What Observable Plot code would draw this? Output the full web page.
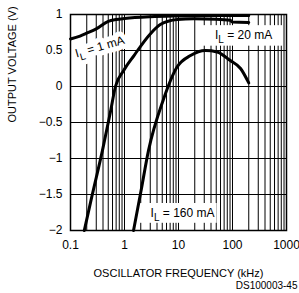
<!DOCTYPE html>
<html><head><meta charset="utf-8">
<script src="https://cdn.jsdelivr.net/npm/d3@7"></script>
<script src="https://cdn.jsdelivr.net/npm/@observablehq/plot@0.6"></script>
<style>body{margin:0;background:#fff}</style>
</head><body><div id="chart"></div>
<script>
const xTicks = [0.1, 1, 10, 100, 1000];
const yTicks = [-2, -1.5, -1, -0.5, 0, 0.5, 1];

const freq1mA = [0.1, 0.15, 0.2, 0.3, 0.5, 0.7, 1, 3, 10, 50, 200];
const volt1mA = [0.66, 0.7, 0.74, 0.8, 0.905, 0.93, 0.945, 0.97, 0.98, 0.985, 0.985];

const freq20mA = [0.18, 0.25, 0.39, 0.55, 0.68, 0.96, 1.5, 3, 4.6, 9.5, 19, 50, 91, 100, 200];
const volt20mA = [-2, -1.52, -0.89, -0.35, 0, 0.22, 0.43, 0.73, 0.86, 0.93, 0.94, 0.935, 0.92, 0.895, 0.89];

const freq160mA = [1.47, 2.0, 2.78, 5.2, 9.4, 16.7, 31.6, 52, 91, 141, 200];
const volt160mA = [-2, -1.47, -0.89, -0.19, 0.27, 0.43, 0.5, 0.48, 0.36, 0.25, 0.05];

const labels = ["I_L = 1 mA", "I_L = 20 mA", "I_L = 160 mA"];
const labelX = [0.35, 160, 11.9];
const labelY = [0.55, 0.72, -1.765];
const labelRotate = [-16, 0, 0];
const boxX1 = [null, 29, 1.9];
const boxX2 = [null, 850, 52];
const boxY1 = [null, 0.845, -1.625];
const boxY2 = [null, 0.56, -1.9];

const xTitle = "OSCILLATOR FREQUENCY (kHz)";
const yTitle = "OUTPUT VOLTAGE (V)";
const note = "DS100003-45";

const series = [
  ...freq1mA.map((f, i) => ({f, v: volt1mA[i], s: labels[0]})),
  ...freq20mA.map((f, i) => ({f, v: volt20mA[i], s: labels[1]})),
  ...freq160mA.map((f, i) => ({f, v: volt160mA[i], s: labels[2]}))
];
const minorX = xTicks.slice(0, -1).flatMap(d => d3.range(1, 10).map(k => d * k)).concat([xTicks[xTicks.length - 1]]);
const labelData = labels.map((t, i) => ({t, x: labelX[i], y: labelY[i], r: labelRotate[i]}));
const boxData = labels.map((t, i) => ({x1: boxX1[i], x2: boxX2[i], y1: boxY1[i], y2: boxY2[i]})).filter(d => d.x1 != null);
const rotated = labelData.filter(d => d.r !== 0);

const fmtY = d => (d < 0 ? "\u2212" : "") + Math.abs(d);

const chart = Plot.plot({
  width: 299, height: 293,
  marginLeft: 70, marginRight: 13, marginTop: 14, marginBottom: 63,
  style: {fontFamily: "Liberation Sans, Arial, sans-serif", fontSize: "12px", color: "black", background: "white"},
  x: {type: "log", domain: [0.1, 1000]},
  y: {domain: [-2, 1]},
  marks: [
    Plot.ruleX(minorX, {stroke: "black", strokeWidth: 1}),
    Plot.ruleY(yTicks, {stroke: "black", strokeWidth: 1}),
    Plot.rect(boxData, {x1: "x1", x2: "x2", y1: "y1", y2: "y2", fill: "white"}),
    Plot.line(series, {x: "f", y: "v", z: "s", stroke: "black", strokeWidth: 3, curve: "monotone-x"}),
    Plot.text(rotated, {x: "x", y: "y", text: "t", rotate: -16, fontSize: 12, stroke: "white", strokeWidth: 10, fill: "white", letterSpacing: "0.5px"}),
    Plot.text(rotated, {x: "x", y: "y", text: "t", rotate: -16, fontSize: 12, fill: "black", letterSpacing: "0.5px"}),
    Plot.text(labelData.filter(d => d.r === 0), {x: "x", y: "y", text: "t", fontSize: 12, fill: "black", letterSpacing: "0.3px"}),
    Plot.frame({stroke: "black", strokeWidth: 1.5}),
    Plot.axisX(xTicks, {tickSize: 0, tickPadding: 10, tickFormat: d => String(d), fontSize: 12, label: null}),
    Plot.axisY(yTicks, {tickSize: 0, tickPadding: 8, tickFormat: fmtY, fontSize: 12, label: null}),
    Plot.text([xTitle], {frameAnchor: "bottom", dy: 46, fontSize: 11, fill: "black"}),
    Plot.text([yTitle], {frameAnchor: "left", dx: -58, rotate: -90, fontSize: 11, fill: "black", letterSpacing: "0.6px"}),
    Plot.text([note], {frameAnchor: "bottom-right", dx: 11, dy: 58, textAnchor: "end", fontSize: 10, fill: "black"})
  ]
});

chart.querySelectorAll("text").forEach(t => {
  const s = t.textContent;
  if (s.startsWith("I_L")) {
    const rest = s.slice(3);
    while (t.firstChild) t.removeChild(t.firstChild);
    const ns = "http://www.w3.org/2000/svg";
    const a = document.createElementNS(ns, "tspan"); a.textContent = "I";
    const b = document.createElementNS(ns, "tspan"); b.textContent = "L"; b.setAttribute("dy", "4"); b.setAttribute("font-size", "10");
    const c = document.createElementNS(ns, "tspan"); c.textContent = rest; c.setAttribute("dy", "-4");
    t.append(a, b, c);
  }
});
document.getElementById("chart").append(chart);
</script>
</body></html>
